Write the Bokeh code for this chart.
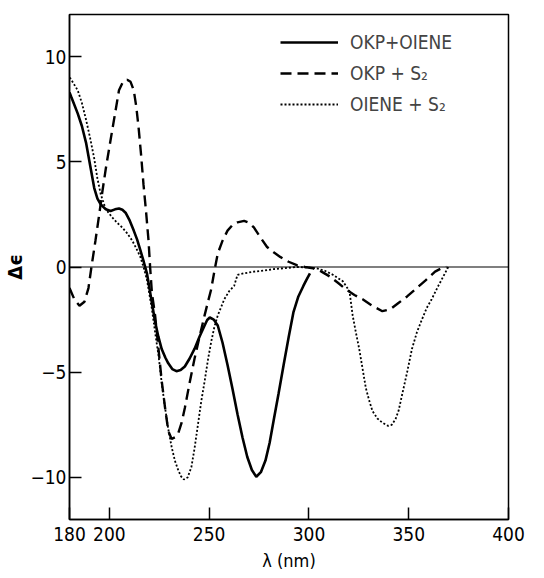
from bokeh.plotting import figure
from bokeh.models import Span, Legend, LegendItem, FixedTicker
from bokeh.embed import file_html
from bokeh.resources import INLINE

# ---- data ----
solid_x = [180.0, 180.8, 184.1, 186.2, 188.3, 190.4, 192.4, 194.0, 195.7, 198.2, 200.6, 202.8, 204.8,
           206.5, 208.1, 210.2, 212.2, 213.9, 215.5, 217.2, 218.8, 220.4, 222.9, 224.5, 226.2, 228.0,
           229.5, 231.5, 233.6, 235.7, 237.8, 240.2, 242.7, 245.2, 247.7, 249.0, 250.3, 252.3, 254.3,
           256.7, 259.2, 261.7, 264.2, 266.7, 269.1, 271.4, 273.6, 275.9, 278.2, 280.3, 282.3, 284.8,
           287.3, 289.8, 292.2, 294.7, 297.2, 298.8, 300.5]
solid_y = [8.3, 8.1, 7.3, 6.7, 5.9, 4.8, 3.75, 3.25, 2.97, 2.74, 2.66, 2.74, 2.78,
           2.72, 2.58, 2.2, 1.73, 1.3, 0.8, 0.25, -0.3, -1.2, -2.6, -3.3, -3.9, -4.3,
           -4.58, -4.85, -4.95, -4.9, -4.73, -4.35, -3.88, -3.3, -2.78, -2.52, -2.4, -2.5, -2.78,
           -3.6, -4.66, -5.8, -7.0, -8.1, -9.03, -9.65, -9.97, -9.75, -9.2, -8.35, -7.3, -6.0,
           -4.66, -3.35, -2.16, -1.4, -0.9, -0.6, -0.3]

dash_x = [180.0, 182.5, 185.0, 187.5, 189.5, 191.0, 193.0, 194.9, 196.5, 198.2, 199.9, 201.5, 203.2,
          204.8, 206.8, 208.9, 210.6, 212.2, 213.5, 214.7, 215.9, 217.1, 218.4, 219.6, 220.4, 221.3,
          222.9, 224.5, 226.2, 227.9, 229.5, 231.2, 232.8, 234.5, 236.2, 237.8, 240.2, 242.7, 245.2,
          247.7, 249.4, 251.0, 252.6, 254.3, 256.7, 259.2, 261.7, 264.2, 267.5, 270.0, 272.4, 275.7,
          279.0, 282.3, 285.6, 289.8, 293.9, 298.0, 302.1, 306.3, 310.4, 314.5, 318.6, 322.8, 326.9,
          331.8, 336.8, 340.9, 345.0, 349.2, 353.3, 358.3, 363.2, 366.0, 368.9]
dash_y = [-1.0, -1.55, -1.84, -1.65, -1.0, 0.0, 1.25, 2.5, 3.6, 4.68, 5.65, 6.55, 7.5,
          8.4, 8.8, 8.9, 8.8, 8.4, 7.6, 6.55, 5.3, 3.9, 2.6, 1.26, 0.0, -1.23,
          -2.3, -3.8, -5.4, -6.7, -7.8, -8.17, -8.1, -7.9, -7.4, -6.7, -5.5, -4.34, -3.3,
          -2.3, -1.65, -1.06, -0.2, 0.64, 1.25, 1.73, 2.0, 2.12, 2.19, 2.1, 1.88, 1.4,
          0.95, 0.7, 0.48, 0.25, 0.09, 0.0, -0.06, -0.22, -0.45, -0.75, -1.07, -1.33, -1.53,
          -1.85, -2.1, -2.0, -1.7, -1.4, -1.06, -0.65, -0.22, -0.08, 0.0]

dot_x = [180.0, 180.5, 184.1, 186.2, 188.3, 190.4, 192.4, 194.0, 195.7, 198.2, 201.5, 203.9, 206.4,
         208.9, 211.4, 213.4, 215.5, 217.1, 218.8, 221.3, 222.9, 224.6, 226.2, 227.9, 229.5, 231.2,
         232.8, 234.5, 235.9, 237.3, 239.2, 241.1, 242.7, 244.4, 246.0, 247.7, 249.4, 251.0, 252.6,
         254.3, 257.6, 260.0, 262.5, 264.2, 267.5, 272.4, 277.4, 282.3, 287.3, 293.9, 298.8, 303.8,
         308.0, 312.0, 317.0, 320.3, 321.9, 323.5, 325.2, 326.9, 328.5, 330.2, 331.8, 334.3, 336.8,
         339.7, 341.5, 343.4, 345.0, 346.7, 349.2, 351.6, 354.1, 356.6, 359.0, 361.5, 364.8, 366.5,
         369.8]
dot_y = [9.0, 8.96, 8.4, 7.8, 7.0, 6.1, 5.15, 4.2, 3.44, 2.74, 2.35, 2.1, 1.88,
         1.6, 1.26, 0.9, 0.48, 0.0, -0.6, -2.0, -3.1, -4.2, -5.5, -6.7, -7.7, -8.56,
         -9.2, -9.66, -9.95, -10.1, -10.0, -9.5, -8.6, -7.47, -6.4, -5.44, -4.4, -3.56, -2.85,
         -2.3, -1.53, -1.15, -0.9, -0.37, -0.3, -0.22, -0.17, -0.1, -0.06, 0.0, -0.02, -0.06,
         -0.18, -0.37, -0.68, -1.15, -2.3, -3.1, -3.9, -4.85, -5.75, -6.35, -6.84, -7.2, -7.4,
         -7.55, -7.5, -7.23, -6.8, -6.06, -5.0, -3.9, -3.1, -2.5, -1.95, -1.53, -0.9, -0.6,
         0.0]

series_labels = ["OKP+OIENE", "OKP + S\u2082", "OIENE + S\u2082"]
x_ticks = [180, 200, 250, 300, 350, 400]
y_ticks = [-10, -5, 0, 5, 10]
y_tick_labels = {-10: "\u221210", -5: "\u22125", 0: "0", 5: "5", 10: "10"}

FONT = "DejaVu Sans Condensed, Roboto, sans-serif"

p = figure(width=530, height=574, x_range=(180, 400), y_range=(-12, 12),
           output_backend="svg", toolbar_location=None,
           min_border_left=64, min_border_right=22, min_border_top=14, min_border_bottom=55)
p.background_fill_color = "white"
p.border_fill_color = "white"
p.outline_line_color = "black"
p.outline_line_width = 1.5
p.grid.visible = False

p.add_layout(Span(location=0, dimension="width", line_color="black", line_width=1.2))

r1 = p.line(solid_x, solid_y, line_color="black", line_width=2.6)
r2 = p.line(dash_x, dash_y, line_color="black", line_width=2.4, line_dash="11 6")
r3 = p.line(dot_x, dot_y, line_color="black", line_width=1.8, line_dash="2 2")

legend = Legend(items=[LegendItem(label=series_labels[0], renderers=[r1]),
                       LegendItem(label=series_labels[1], renderers=[r2]),
                       LegendItem(label=series_labels[2], renderers=[r3])],
                location=(211, 404), glyph_width=58, glyph_height=20, label_standoff=12,
                spacing=9, padding=0, margin=0, border_line_color=None,
                background_fill_alpha=0, label_text_font=FONT, label_text_font_size="19px",
                label_height=20)
p.add_layout(legend, "center")

for ax in (p.xaxis[0], p.yaxis[0]):
    ax.axis_line_width = 1.5
    ax.major_tick_in = 12
    ax.major_tick_out = 0
    ax.major_tick_line_width = 1.5
    ax.minor_tick_line_color = None
    ax.major_label_text_font = FONT
    ax.major_label_text_font_size = "19px"
    ax.major_label_text_color = "black"
    ax.axis_label_text_font = FONT
    ax.axis_label_text_color = "black"
    ax.axis_label_text_font_style = "normal"

p.xaxis.ticker = FixedTicker(ticks=x_ticks)
p.yaxis.ticker = FixedTicker(ticks=y_ticks)
p.yaxis.major_label_overrides = y_tick_labels
p.xaxis.major_label_standoff = 7
p.yaxis.major_label_standoff = 3
p.xaxis.axis_label = "\u03bb (nm)"
p.xaxis.axis_label_text_font_size = "18px"
p.xaxis.axis_label_standoff = 6
p.yaxis.axis_label = "\u0394\u03f5"
p.yaxis.axis_label_text_font_size = "20px"
p.yaxis.axis_label_text_font_style = "bold"
p.yaxis.axis_label_text_line_height = 0.9
p.yaxis.major_label_text_line_height = 1.0
p.yaxis.axis_label_standoff = 0

open("out.html", "w").write(file_html(p, INLINE))
